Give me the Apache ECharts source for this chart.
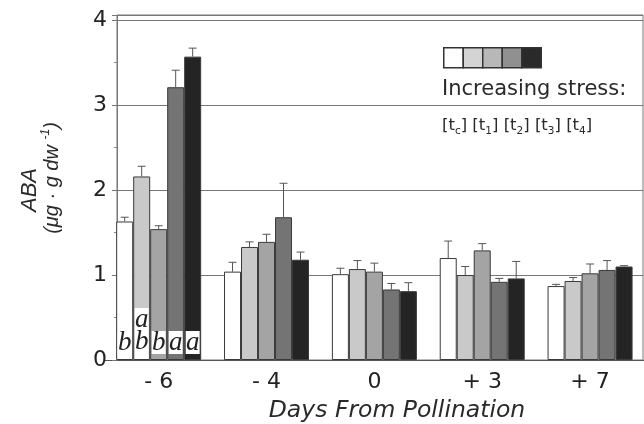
<!DOCTYPE html>
<html>
<head>
<meta charset="utf-8">
<script src="https://cdn.jsdelivr.net/npm/echarts@6/dist/echarts.min.js"></script>
<style>html,body{margin:0;padding:0;background:#fff}#c{width:644px;height:424px}</style>
</head>
<body>
<div id="c"></div>
<script>
// ---- data ----
const categories = ['- 6', '- 4', '0', '+ 3', '+ 7'];
const seriesNames = ['tc', 't1', 't2', 't3', 't4'];
const valTc = [1.63, 1.04, 1.01, 1.20, 0.87];
const valT1 = [2.16, 1.33, 1.07, 1.00, 0.93];
const valT2 = [1.54, 1.39, 1.04, 1.29, 1.02];
const valT3 = [3.21, 1.68, 0.83, 0.92, 1.06];
const valT4 = [3.57, 1.18, 0.81, 0.96, 1.10];
const errTc = [0.05, 0.11, 0.07, 0.20, 0.02];
const errT1 = [0.12, 0.06, 0.10, 0.10, 0.04];
const errT2 = [0.04, 0.09, 0.10, 0.08, 0.11];
const errT3 = [0.20, 0.40, 0.07, 0.04, 0.11];
const errT4 = [0.10, 0.09, 0.10, 0.20, 0.01];
const lettersDayMinus6 = ['b', 'a\nb', 'b', 'a', 'a'];
const yTicks = [0, 1, 2, 3, 4];

// ---- styles ----
const values = [valTc, valT1, valT2, valT3, valT4];
const errors = [errTc, errT1, errT2, errT3, errT4];
const barColors = ['#ffffff', '#c9c9c9', '#a4a4a4', '#747474', '#242424'];
const legendColors = ['#ffffff', '#d4d4d4', '#b8b8b8', '#909090', '#2a2a2a'];
const BAR_W = 17;
const YMAX = 4.06;

const chart = echarts.init(document.getElementById('c'), null, {renderer: 'canvas'});

const barSeries = seriesNames.map((name, s) => ({
  name: name,
  type: 'bar',
  xAxisIndex: 1, yAxisIndex: 1,
  barWidth: BAR_W,
  barGap: '0%',
  itemStyle: {color: barColors[s], borderColor: '#3a3a3a', borderWidth: 1},
  emphasis: {disabled: true},
  z: 3,
  data: values[s].map((v, i) => {
    if (i === 0) {
      return {
        value: v,
        label: {
          show: true,
          position: 'insideBottom',
          distance: s === 1 ? 1 : 6,
          formatter: lettersDayMinus6[s],
          fontFamily: 'Liberation Serif',
          fontStyle: 'italic',
          fontSize: 27,
          lineHeight: 22,
          color: '#222',
          backgroundColor: '#ffffff',
          width: 14,
          overflow: 'none',
          align: 'center',
          padding: s === 1 ? [1, 0, 6, 0] : [1, 0, 0, 0]
        }
      };
    }
    return v;
  })
}));

const errSeries = seriesNames.map((name, s) => ({
  name: name + '_err',
  type: 'custom',
  xAxisIndex: 1, yAxisIndex: 1,
  z: 4,
  silent: true,
  data: values[s].map((v, i) => [i, v, errors[s][i]]),
  renderItem: function (params, api) {
    const i = api.value(0), v = api.value(1), e = api.value(2);
    const p0 = api.coord([i, v]);
    const p1 = api.coord([i, v + e]);
    const x = p0[0] + (s - 2) * BAR_W;
    return {
      type: 'group',
      children: [
        {type: 'line', shape: {x1: x, y1: p0[1], x2: x, y2: p1[1]}, style: {stroke: '#555', lineWidth: 1}},
        {type: 'line', shape: {x1: x - 4, y1: p1[1], x2: x + 4, y2: p1[1]}, style: {stroke: '#555', lineWidth: 1}}
      ]
    };
  }
}));

const option = {
  animation: false,
  grid: [
    {left: 117, right: 1, top: 15, bottom: 64, show: true, borderColor: '#777', borderWidth: 1, backgroundColor: 'transparent'},
    {left: 104.75, width: 552.5, top: 15, bottom: 64}
  ],
  xAxis: [
    {gridIndex: 0, type: 'value', min: 0, max: 1, show: false},
    {
      gridIndex: 1, type: 'category', data: categories,
      axisLine: {show: true, lineStyle: {color: '#555', width: 1}},
      axisTick: {show: false},
      axisLabel: {fontFamily: 'DejaVu Sans', fontSize: 22, color: '#222', margin: 11}
    }
  ],
  yAxis: [
    {
      gridIndex: 0, type: 'value', min: 0, max: YMAX, interval: 1,
      axisLine: {show: true, lineStyle: {color: '#777'}},
      axisTick: {show: true, length: 5, lineStyle: {color: '#777'}},
      minorTick: {show: true, splitNumber: 2, length: 3, lineStyle: {color: '#888'}},
      splitLine: {show: true, lineStyle: {color: '#777', width: 1}},
      axisLabel: {
        fontFamily: 'DejaVu Sans', fontSize: 22, color: '#222', margin: 10,
        formatter: v => (yTicks.indexOf(v) >= 0 ? String(v) : '')
      }
    },
    {gridIndex: 1, type: 'value', min: 0, max: YMAX, show: false, splitLine: {show: false}}
  ],
  legend: {
    data: seriesNames.map((n, s) => ({name: n, itemStyle: {color: legendColors[s], borderColor: '#333', borderWidth: 1.5}})),
    left: 443, top: 47, padding: 0,
    itemWidth: 19.5, itemHeight: 20, itemGap: -1.5,
    icon: 'rect',
    formatter: () => '',
    selectedMode: false,
    textStyle: {fontSize: 1}
  },
  graphic: [
    {type: 'text', left: 442, top: 79, silent: true,
     style: {text: 'Increasing stress:', font: '21px "DejaVu Sans"', fill: '#2a2a2a'}},
    {type: 'text', left: 442, top: 115, silent: true,
     style: {
       text: '[t{s|c}] [t{s|1}] [t{s|2}] [t{s|3}] [t{s|4}]',
       font: '16.5px "DejaVu Sans"', fill: '#2a2a2a', lineHeight: 22,
       rich: {s: {fontSize: 10.5, fontFamily: 'DejaVu Sans', fill: '#2a2a2a', verticalAlign: 'bottom', lineHeight: 22}}
     }},
    {type: 'text', x: 30, y: 190, rotation: Math.PI / 2, silent: true,
     style: {text: 'ABA', font: 'italic 22px "Liberation Sans"', fill: '#2a2a2a', align: 'center', verticalAlign: 'middle'}},
    {type: 'text', x: 52, y: 178, rotation: Math.PI / 2, silent: true,
     style: {
       text: '(μg · g dw {sup|-1})', font: 'italic 20px "Liberation Sans"', fill: '#2a2a2a',
       align: 'center', verticalAlign: 'middle',
       rich: {sup: {fontSize: 12, fontStyle: 'italic', fontFamily: 'Liberation Sans', verticalAlign: 'top', lineHeight: 24}}
     }},
    {type: 'text', x: 397, y: 411, silent: true,
     style: {text: 'Days From Pollination', font: 'italic 23.5px "DejaVu Sans"', fill: '#2a2a2a', align: 'center', verticalAlign: 'middle'}}
  ],
  series: barSeries.concat(errSeries)
};
chart.setOption(option);
</script>
</body>
</html>
